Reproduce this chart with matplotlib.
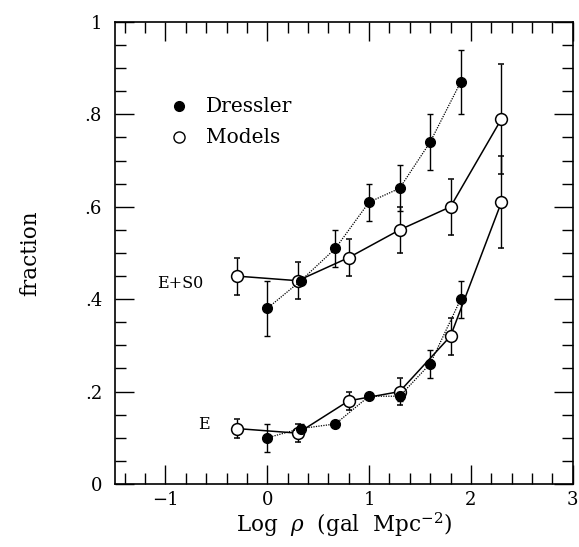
import matplotlib
matplotlib.use('Agg')
import matplotlib.pyplot as plt
from matplotlib.ticker import MultipleLocator, FixedLocator, FixedFormatter

# Dressler data (filled), upper = E+S0, lower = E
dr_x = [0.0, 0.33, 0.67, 1.0, 1.3, 1.6, 1.9]
dr_es0 = [0.38, 0.44, 0.51, 0.61, 0.64, 0.74, 0.87]
dr_es0_err = [0.06, 0.0, 0.04, 0.04, 0.05, 0.06, 0.07]
dr_e = [0.10, 0.12, 0.13, 0.19, 0.19, 0.26, 0.40]
dr_e_err = [0.03, 0.01, 0.0, 0.0, 0.01, 0.03, 0.04]

# Model data (open)
mo_x = [-0.3, 0.3, 0.8, 1.3, 1.8, 2.3]
mo_es0 = [0.45, 0.44, 0.49, 0.55, 0.60, 0.79]
mo_es0_err = [0.04, 0.04, 0.04, 0.05, 0.06, 0.12]
mo_e = [0.12, 0.11, 0.18, 0.20, 0.32, 0.61]
mo_e_err = [0.02, 0.02, 0.02, 0.03, 0.04, 0.10]

ytick_vals = [0, 0.2, 0.4, 0.6, 0.8, 1.0]
ytick_labels = ['0', '.2', '.4', '.6', '.8', '1']
xtick_vals = [-1, 0, 1, 2, 3]
xtick_labels = ['\u22121', '0', '1', '2', '3']

plt.rcParams['font.family'] = ['DejaVu Serif']
plt.rcParams['mathtext.fontset'] = 'dejavuserif'

fig = plt.figure(figsize=(5.79, 5.47), dpi=100)
ax = fig.add_axes([0.1978, 0.1152, 0.7913, 0.8446])

# Model curves: solid lines, open circles
for y, e in [(mo_es0, mo_es0_err), (mo_e, mo_e_err)]:
    ax.errorbar(mo_x, y, yerr=e, fmt='-', color='k', lw=1.1, elinewidth=1.0,
                capsize=2.5, capthick=1.0, marker='o', ms=8.5, mfc='white',
                mec='k', mew=1.1, zorder=2)

# Dressler: dotted lines, filled circles
for y, e in [(dr_es0, dr_es0_err), (dr_e, dr_e_err)]:
    ax.errorbar(dr_x, y, yerr=e, fmt='', linestyle=(0, (1, 1)), color='k', lw=0.9,
                elinewidth=1.0, capsize=2.5, capthick=1.0, marker='o', ms=7,
                mfc='k', mec='k', zorder=3)

# legend drawn by hand in data coordinates
ax.plot([-0.87], [0.818], 'o', ms=7, color='k')
ax.text(-0.6, 0.818, 'Dressler', fontsize=14.5, va='center', ha='left')
ax.plot([-0.87], [0.75], 'o', ms=8, mfc='white', mec='k', mew=1.0)
ax.text(-0.6, 0.75, 'Models', fontsize=14.5, va='center', ha='left')

ax.text(-1.08, 0.435, 'E+S0', fontsize=11.5, va='center', ha='left')
ax.text(-0.62, 0.128, 'E', fontsize=11.5, va='center', ha='center')

ax.set_xlim(-1.5, 3)
ax.set_ylim(0, 1)
ax.xaxis.set_major_locator(FixedLocator(xtick_vals))
ax.xaxis.set_major_formatter(FixedFormatter(xtick_labels))
ax.xaxis.set_minor_locator(MultipleLocator(0.2))
ax.yaxis.set_major_locator(FixedLocator(ytick_vals))
ax.yaxis.set_major_formatter(FixedFormatter(ytick_labels))
ax.yaxis.set_minor_locator(MultipleLocator(0.05))
ax.tick_params(which='both', direction='in', top=True, right=True,
               labelsize=13, width=1.0)
ax.tick_params(which='major', length=14)
ax.tick_params(axis='x', which='major', pad=5)
ax.tick_params(axis='y', which='major', pad=9)
ax.tick_params(which='minor', length=8)
for s in ax.spines.values():
    s.set_linewidth(1.2)

ax.set_xlabel(r'Log  $\rho$  (gal  Mpc$^{-2}$)', fontsize=15.5, labelpad=1)
ax.set_ylabel('fraction', fontsize=15.5, labelpad=31)

plt.savefig('out.png', dpi=100)
